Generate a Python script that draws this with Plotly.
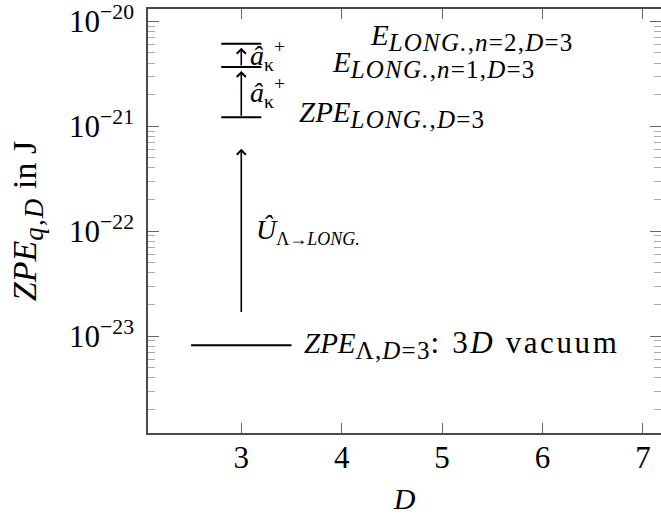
import numpy as np
import plotly.graph_objects as go

# Energy levels in J, all at dimension D = 3
D_level = 3
vacuum_zpe = 8.2e-24                         # ZPE_{Λ,D=3}: 3D vacuum
long_levels = [1.22e-21, 3.66e-21, 6.1e-21]  # ZPE_LONG., E_n=1, E_n=2
vacuum_span = [2.5, 3.5]
long_span = [2.8, 3.2]
transition_arrow = [1.64e-23, 6.1e-22]       # Û_{Λ→LONG.}

x_ticks = [3, 4, 5, 6, 7]
y_ticks = [1e-23, 1e-22, 1e-21, 1e-20]
y_ticklabels = ["10<sup>−23</sup>", "10<sup>−22</sup>", "10<sup>−21</sup>", "10<sup>−20</sup>"]
y_minor = [m * 10.0 ** e for e in range(-24, -19) for m in range(2, 10)]

x_range = [2.071, 7.18]
y_range = [-23.923, -19.883]

FONT = "'Liberation Serif', 'Times New Roman', serif"
FS = 30
AX = "#4a4a4a"


def sub(body, px, spacing=1.2):
    """Subscript with an explicit size and a little tracking."""
    return (f"<sub><span style=\"font-size:{px}px;letter-spacing:{spacing}px\">"
            f"{body}</span></sub>")


def wide(body, px, spacing):
    return f"<span style=\"font-size:{px}px;letter-spacing:{spacing}px\">{body}</span>"


fig = go.Figure()

# vacuum level
fig.add_trace(go.Scatter(x=vacuum_span, y=[vacuum_zpe, vacuum_zpe], mode="lines",
                         line=dict(color="black", width=2), showlegend=False, hoverinfo="skip"))
# longitudinal ladder
for lvl in long_levels:
    fig.add_trace(go.Scatter(x=long_span, y=[lvl, lvl], mode="lines",
                             line=dict(color="black", width=2), showlegend=False, hoverinfo="skip"))

# empty trace that carries the right-hand tick axis
fig.add_trace(go.Scatter(x=[], y=[], yaxis="y2", showlegend=False, hoverinfo="skip"))

lab_font = dict(family=FONT, size=29, color="black")
ann = []
# big transition arrow
ann.append(dict(x=D_level, y=np.log10(transition_arrow[1]), ax=D_level, ay=np.log10(transition_arrow[0]),
                xref="x", yref="y", axref="x", ayref="y", text="", showarrow=True,
                arrowhead=4, arrowsize=1.1, arrowwidth=1.6, arrowcolor="black"))
ann.append(dict(x=3.13, y=np.mean(np.log10(transition_arrow)), xref="x", yref="y",
                text="<i>Û</i>" + sub("Λ→<i>LONG.</i>", 18, 0), showarrow=False,
                xanchor="left", yanchor="middle", font=dict(family=FONT, size=28, color="black")))

# creation operator steps
for lo, hi in zip(long_levels[:-1], long_levels[1:]):
    ann.append(dict(x=D_level, y=np.log10(hi), ax=D_level, ay=np.log10(lo),
                    xref="x", yref="y", axref="x", ayref="y", text="", showarrow=True,
                    arrowhead=4, arrowsize=1.1, arrowwidth=1.6, arrowcolor="black", standoff=4))
    ann.append(dict(x=3.07, y=(np.log10(lo) + np.log10(hi)) / 2, xref="x", yref="y",
                    text="<i>â</i><sub>κ</sub><sup>+</sup>", showarrow=False,
                    xanchor="left", yanchor="middle", font=dict(family=FONT, size=28, color="black")))

# level labels
level_texts = [
    (3.55, long_levels[0], 3, "<i>ZPE</i>" + sub("<i>LONG.</i>,<i>D</i>=3", 25)),
    (3.88, long_levels[1], 3, "<i>E</i>" + sub("<i>LONG.</i>,<i>n</i>=1,<i>D</i>=3", 25)),
    (4.26, long_levels[2], 6, "<i>E</i>" + sub("<i>LONG.</i>,<i>n</i>=2,<i>D</i>=3", 25)),
    (3.60, vacuum_zpe, 1, "<i>ZPE</i>" + sub("Λ,<i>D</i>=3", 25)
     + wide(": 3<i>D</i> vacuum", 31, 2.6)),
]
for xp, yv, lift, txt in level_texts:
    ann.append(dict(x=xp, y=np.log10(yv), xref="x", yref="y", text=txt, showarrow=False,
                    xanchor="left", yanchor="middle", yshift=lift, font=lab_font))

tick_font = dict(family=FONT, size=31, color="black")
fig.update_layout(
    width=661, height=519,
    margin=dict(l=148, r=0, t=3, b=86),
    paper_bgcolor="white", plot_bgcolor="white",
    font=dict(family=FONT, size=FS, color="black"),
    annotations=ann,
    xaxis=dict(range=x_range, tickvals=x_ticks, ticks="inside", ticklen=10, tickwidth=1.3,
               tickcolor="#666", showline=True, linecolor=AX, linewidth=1.6, mirror="ticks",
               showgrid=False, zeroline=False, ticklabelstandoff=-4,
               title=dict(text="<i>D</i>", standoff=14, font=dict(family=FONT, size=30, color="black")),
               tickfont=tick_font),
    yaxis=dict(type="log", range=y_range, tickvals=y_ticks, ticktext=y_ticklabels,
               ticks="inside", ticklen=11, tickwidth=1.3, tickcolor="#666",
               showline=True, linecolor=AX, linewidth=1.6, mirror=False,
               showgrid=False, zeroline=False, ticklabelstandoff=6, ticklabeloverflow="allow",
               minor=dict(tickvals=y_minor, ticks="inside", ticklen=7, tickwidth=1, tickcolor="#aaa",
                          showgrid=False),
               title=dict(text="<i>ZPE</i>" + sub("<i>q</i>,<i>D</i>", 27) + " in J", standoff=22,
                          font=dict(family=FONT, size=34, color="black")),
               tickfont=tick_font),
    yaxis2=dict(type="log", range=y_range, overlaying="y", side="right", tickvals=y_ticks,
                showticklabels=False, ticks="inside", ticklen=11, tickwidth=1.3, tickcolor="#666",
                showline=False, showgrid=False, zeroline=False,
                minor=dict(tickvals=y_minor, ticks="inside", ticklen=7, tickwidth=1, tickcolor="#aaa",
                           showgrid=False)),
)

fig.write_html("out.html")
